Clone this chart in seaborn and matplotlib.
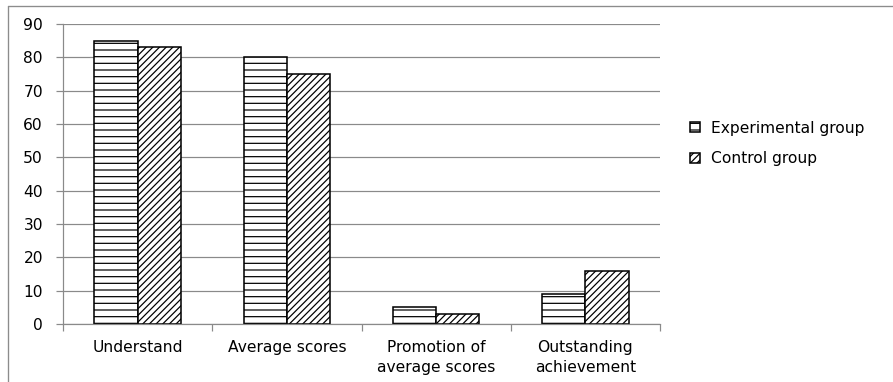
import matplotlib
matplotlib.use("Agg")
import matplotlib.pyplot as plt
from matplotlib.lines import Line2D
import seaborn as sns
import pandas as pd

categories = ["Understand", "Average scores", "Promotion of\naverage scores", "Outstanding\nachievement"]
experimental = [85, 80, 5, 9]
control = [83, 75, 3, 16]
groups = ["Experimental group", "Control group"]
y_ticks = [0, 10, 20, 30, 40, 50, 60, 70, 80, 90]

df = pd.DataFrame({
    "category": categories * 2,
    "value": experimental + control,
    "group": [groups[0]] * len(categories) + [groups[1]] * len(categories),
})

sns.set_theme(style="white")
plt.rcParams["font.family"] = ["DejaVu Sans"]
plt.rcParams["text.color"] = "black"
plt.rcParams["hatch.linewidth"] = 1.1

FS = 14
DPI = 80
W, H = 893, 382
fig = plt.figure(figsize=(W / DPI, H / DPI), dpi=DPI)
ax = fig.add_axes([63 / W, 1 - 324 / H, (660 - 63) / W, (324 - 24) / H])

sns.barplot(data=df, x="category", y="value", hue="group", hue_order=groups,
            order=categories, width=0.58, ax=ax, legend=False,
            palette=["white", "white"], edgecolor="black", linewidth=1.4,
            saturation=1)

hatches = ["--", "////"]
for cont, h in zip(ax.containers, hatches):
    for bar in cont:
        bar.set_hatch(h)
        bar.set_facecolor("white")
        bar.set_edgecolor("black")

grid_col = "#8a8a8a"
ax.set_ylim(0, 90)
ax.set_xlim(-0.5, len(categories) - 0.5)
ax.set_yticks(y_ticks)
ax.yaxis.grid(True, color=grid_col, linewidth=1.1)
ax.set_axisbelow(True)
for s in ["top", "right"]:
    ax.spines[s].set_visible(False)
for s in ["left", "bottom"]:
    ax.spines[s].set_color(grid_col)
    ax.spines[s].set_linewidth(1.1)

ax.tick_params(axis="y", which="major", left=True, length=6, width=1.1,
               color=grid_col, pad=12, labelsize=FS, labelcolor="black")
ax.tick_params(axis="x", which="major", bottom=False, length=0, pad=14,
               labelsize=FS, labelcolor="black")
ax.set_xticks(range(len(categories)))
ax.set_xticklabels(categories, linespacing=1.45)
ax.set_xticks([i - 0.5 for i in range(len(categories) + 1)], minor=True)
ax.tick_params(axis="x", which="minor", bottom=True, length=6, width=1.1,
               color=grid_col)
ax.set_xlabel("")
ax.set_ylabel("")

handles = [ax.containers[0][0], ax.containers[1][0]]
fig.legend(handles, groups, loc="center left",
           bbox_to_anchor=(690 / W, 1 - 143.5 / H), frameon=False,
           fontsize=FS, labelcolor="black", handlelength=0.65,
           handleheight=0.65, handletextpad=0.7, labelspacing=1.0,
           borderpad=0, borderaxespad=0)

# outer chart frame (left and top edges)
fig.add_artist(Line2D([8 / W, 8 / W], [0, 1 - 6 / H], color="#8c8c8c",
                      linewidth=1.2, transform=fig.transFigure))
fig.add_artist(Line2D([8 / W, 1], [1 - 6 / H, 1 - 6 / H], color="#8c8c8c",
                      linewidth=1.2, transform=fig.transFigure))

fig.savefig("out.png", dpi=DPI, facecolor="white")
